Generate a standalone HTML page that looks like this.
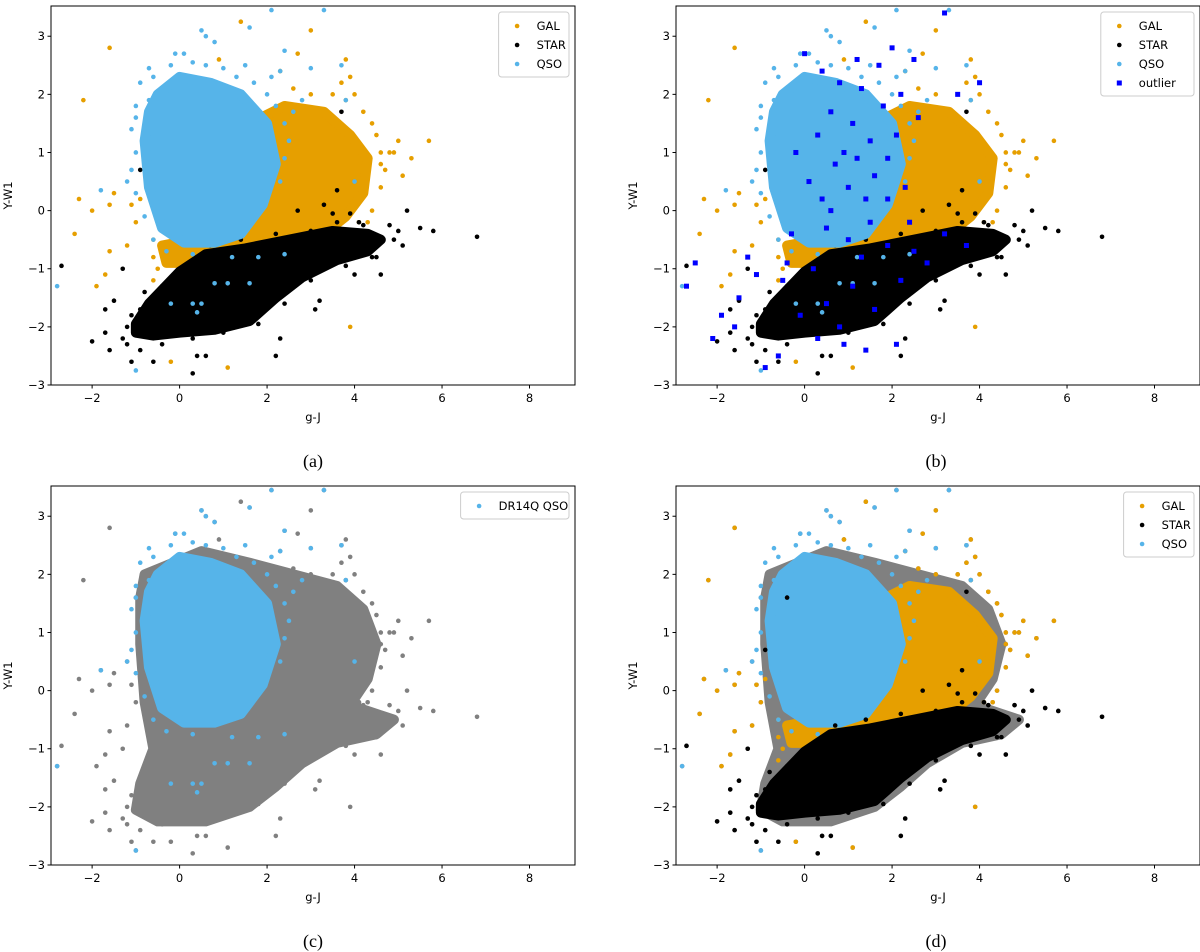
<!DOCTYPE html>
<html><head><meta charset="utf-8">
<style>
html,body{margin:0;padding:0;background:#fff;}
svg{display:block;}
text{font-family:"DejaVu Sans","Liberation Sans",sans-serif;}
.cap{font-family:"Liberation Serif","DejaVu Serif",serif;font-size:18px;}
</style></head>
<body>
<svg id="fig" width="1200" height="952" xmlns="http://www.w3.org/2000/svg"></svg>
<script>
// ---- data (data units: g-J, Y-W1) ----
const xTicks = [-2, 0, 2, 4, 6, 8];
const yTicks = [-3, -2, -1, 0, 1, 2, 3];
const xTickLabels = ["\u22122", "0", "2", "4", "6", "8"];
const yTickLabels = ["\u22123", "\u22122", "\u22121", "0", "1", "2", "3"];
const qsoCore = [[-0.5,2.0],[0,2.3],[0.7,2.2],[1.4,2.0],[2.0,1.5],[2.2,0.8],[1.9,0.1],[1.4,-0.4],[0.8,-0.55],[0.1,-0.55],[-0.4,-0.3],[-0.7,0.4],[-0.8,1.2],[-0.7,1.7]];
const galCore = [[1.6,1.5],[2.4,1.8],[3.3,1.7],[3.9,1.3],[4.3,0.9],[4.2,0.3],[3.8,-0.1],[3.3,-0.4],[2.5,-0.5],[1.8,-0.6],[0.8,-0.9],[-0.3,-0.9],[-0.4,-0.6],[1.0,-0.4],[1.6,0.3],[1.5,1.0]];
const starCore = [[-1.0,-1.95],[-0.7,-1.6],[0.0,-1.05],[0.6,-0.75],[1.5,-0.65],[2.5,-0.5],[3.5,-0.35],[4.3,-0.4],[4.6,-0.5],[4.3,-0.7],[3.6,-0.85],[2.8,-1.15],[2.2,-1.5],[1.6,-1.9],[0.8,-2.05],[0,-2.1],[-0.6,-2.15],[-1.0,-2.1]];
const grayCore = [[-0.8,2.0],[0.5,2.4],[1.6,2.2],[2.6,2.0],[3.6,1.8],[4.2,1.4],[4.5,0.8],[4.3,0.2],[3.9,-0.25],[4.5,-0.4],[4.9,-0.5],[4.5,-0.75],[3.6,-0.9],[2.8,-1.25],[2.2,-1.65],[1.6,-2.0],[0.6,-2.25],[-0.5,-2.25],[-1.0,-2.05],[-0.9,-1.6],[-0.6,-1.0],[-0.8,-0.2],[-0.9,0.8],[-0.9,1.6]];
const qsoFringe = [[-0.9,2.2],[-0.6,2.3],[-0.2,2.5],[0.3,2.55],[0.6,2.5],[1.0,2.45],[1.3,2.3],[1.7,2.2],[2.0,2.0],[2.2,1.8],[2.4,1.5],[2.5,1.2],[2.4,0.9],[2.3,0.5],[-1.0,1.8],[-1.1,1.4],[-1.0,1.0],[-1.1,0.7],[-1.0,0.3],[-0.8,-0.1],[-0.6,-0.5],[-0.3,-0.7],[0.3,-0.75],[2.1,2.3],[1.5,2.5],[0.1,2.7],[-0.7,2.45],[2.6,1.7],[2.8,1.9],[2.3,2.4]];
const galFringe = [[4.5,1.3],[4.6,1.0],[4.7,0.7],[4.6,0.4],[4.4,0.0],[4.1,-0.2],[4.4,1.5],[4.2,1.7],[3.8,1.9],[3.5,2.0],[3.0,2.0],[2.6,2.1],[3.7,2.2],[4.9,1.0],[4.3,-0.2],[-0.5,-1.0],[-0.6,-0.8],[-0.6,-0.5],[0.3,-1.0],[1.6,-1.8],[2.0,-1.6],[2.6,-1.3],[3.1,-1.0],[1.2,-2.0],[0.5,-2.1],[-0.6,-1.2]];
const starFringe = [[-1.2,-2.0],[-1.1,-1.8],[-1.2,-2.3],[-0.9,-2.4],[-0.4,-2.3],[0.3,-2.2],[1.0,-2.1],[1.8,-1.95],[2.4,-1.6],[3.0,-1.2],[3.8,-0.95],[4.5,-0.8],[4.9,-0.5],[5.0,-0.35],[4.8,-0.25],[4.2,-0.25],[3.6,-0.2],[3.0,-0.35],[2.2,-0.4],[1.4,-0.5],[0.7,-0.6],[0.2,-0.9],[-0.4,-1.3],[-0.8,-1.4],[-0.9,-1.7],[3.3,0.1],[3.5,-0.05],[2.7,0.0],[3.9,-0.05]];
const galPts = [[-1.6,2.8],[-2.2,1.9],[1.4,3.25],[3.0,3.1],[3.8,2.6],[4.0,2.0],[3.9,2.3],[5.7,1.2],[5.0,1.2],[5.3,0.9],[5.1,0.6],[-2.3,0.2],[-2.0,0],[-1.6,0.1],[-2.4,-0.4],[-1.6,-0.7],[-1.7,-1.1],[-1.9,-1.3],[-1.2,-0.6],[-1.0,-0.2],[3.9,-2.0],[1.1,-2.7],[-0.2,-2.6],[2.7,2.7],[0.9,2.6],[-1.1,0.1],[-0.9,0.2],[2.3,2.4],[-1.5,0.3],[4.6,0.8],[4.8,1.0]];
const starPts = [[6.8,-0.45],[5.8,-0.35],[5.5,-0.3],[5.2,0],[5.1,-0.6],[4.6,-1.1],[4.0,-1.1],[4.4,-0.8],[3.1,-1.7],[3.2,-1.55],[2.2,-2.5],[2.3,-2.2],[0.6,-2.5],[0.4,-2.5],[0.3,-2.8],[-0.6,-2.6],[-1.1,-2.6],[-2.0,-2.25],[-1.6,-2.4],[-1.7,-2.1],[-2.7,-0.95],[-1.5,-1.55],[-1.3,-1.0],[-0.9,0.7],[-0.4,1.6],[3.7,1.7],[4.1,-0.2],[-1.7,-1.7],[-1.3,-2.2],[3.6,0.35]];
const qsoPts = [[-2.8,-1.3],[-1.8,0.35],[-1.2,0.5],[-1.0,1.6],[-0.1,2.7],[0.5,3.1],[0.6,3.0],[1.6,3.15],[2.1,3.45],[3.3,3.45],[2.4,2.75],[3.0,2.45],[3.7,2.5],[3.8,1.9],[4.0,0.5],[-1.0,-2.75],[0.4,-1.75],[0.5,-1.6],[0.8,-1.25],[1.1,-1.25],[1.8,-0.8],[1.6,-1.25],[2.4,-0.75],[0.3,-1.6],[-0.2,-1.6],[1.2,-0.8],[0.8,2.9],[-0.7,1.9]];
const outlierPts = [[-2.7,-1.3],[-2.5,-0.9],[-2.1,-2.2],[-1.9,-1.8],[-1.6,-2.0],[-1.5,-1.5],[-1.3,-0.8],[-1.1,-1.1],[-0.9,-2.7],[-0.6,-2.5],[-0.5,-1.2],[-0.3,-0.4],[0,2.7],[0.1,0.5],[0.3,1.3],[0.4,0.2],[0.5,-0.3],[0.6,1.7],[0.7,0.8],[0.8,2.2],[0.9,1.0],[1.0,0.4],[1.1,1.5],[1.2,0.9],[1.3,2.1],[1.4,0.2],[1.5,1.2],[1.6,0.6],[1.7,2.5],[1.8,1.8],[1.9,0.9],[2.0,2.8],[2.1,1.3],[2.2,2.0],[2.3,0.4],[2.5,2.6],[2.6,1.6],[3.2,3.4],[3.5,2.0],[4.0,2.2],[0.2,-1.0],[0.5,-1.6],[0.8,-2.0],[1.1,-1.3],[1.3,-0.8],[1.6,-1.7],[1.9,-0.6],[2.2,-1.2],[2.5,-0.7],[2.8,-0.9],[3.2,-0.4],[3.7,-0.6],[2.1,-2.3],[1.4,-2.4],[0.9,-2.3],[0.3,-2.2],[-0.1,-1.8],[-0.4,-0.9],[0.6,0.0],[1.0,-0.5],[1.5,-0.2],[1.9,0.2],[2.4,-0.2],[0.4,2.4],[1.2,2.6],[-0.2,1.0]];
const legendA = ["GAL","STAR","QSO"];
const legendB = ["GAL","STAR","QSO","outlier"];
const legendC = ["DR14Q QSO"];

// ---- layout ----
const C = {gal:"#E69F00", star:"#000000", qso:"#56B4E9", gray:"#808080", out:"#0000FF"};
const NS = "http://www.w3.org/2000/svg";
const svg = document.getElementById('fig');
const XL = -2.94, XR = 9.04, YB = -3, YT = 3.52;
function mk(tag, attrs, parent){const e=document.createElementNS(NS,tag);for(const k in attrs)e.setAttribute(k,attrs[k]);(parent||svg).appendChild(e);return e;}

function panel(ox, oy, id, layers, legend, legendColors, caption){
  const W = 524, H = 379;
  const g = mk('g',{transform:`translate(${ox},${oy})`});
  
  
  const sx = v => (v - XL) / (XR - XL) * W;
  const sy = v => H - (v - YB) / (YT - YB) * H;
  const clipId = 'clip'+id;
  const cp = mk('clipPath',{id:clipId},g); mk('rect',{x:0,y:0,width:W,height:H},cp);
  const plot = mk('g',{'clip-path':`url(#${clipId})`},g);
  
  
  layers.forEach(L=>{
    const lg = mk('g',{},plot);
    
    
    if(L.core){
      const p = mk('polygon',{points:L.core.map(q=>sx(q[0])+','+sy(q[1])).join(' '),fill:L.color,stroke:L.color,'stroke-width':10,'stroke-linejoin':'round'},lg);
      
      
    }
    (L.pts||[]).forEach(q=>{
      let m;
      if(L.square) m = mk('rect',{x:sx(q[0])-2.5,y:sy(q[1])-2.5,width:5,height:5,fill:L.color},lg);
      else m = mk('circle',{cx:sx(q[0]),cy:sy(q[1]),r:2.3,fill:L.color},lg);
      
      
    });
  });
  const fr = mk('rect',{x:0,y:0,width:W,height:H,fill:'none',stroke:'#000','stroke-width':1},g);
  
  
  xTicks.forEach((t,i)=>{
    mk('line',{x1:sx(t),x2:sx(t),y1:H,y2:H+3.5,stroke:'#000'},g);
    const tx = mk('text',{x:sx(t),y:H+17,'font-size':11.5,'text-anchor':'middle'},g);
    tx.textContent = xTickLabels[i];
    
    
  });
  yTicks.forEach((t,i)=>{
    mk('line',{x1:0,x2:-3.5,y1:sy(t),y2:sy(t),stroke:'#000'},g);
    const tx = mk('text',{x:-6,y:sy(t)+4,'font-size':11.5,'text-anchor':'end'},g);
    tx.textContent = yTickLabels[i];
    
    
  });
  const xl = mk('text',{x:W/2,y:H+36,'font-size':11.5,'text-anchor':'middle'},g);
  xl.textContent = 'g-J';
  
  
  const yl = mk('text',{x:0,y:0,'font-size':11.5,'text-anchor':'middle',transform:`translate(${-39},${H/2}) rotate(-90)`},g);
  yl.textContent = 'Y-W1';
  
  
  const maxLen = Math.max(...legend.map(s=>s.length));
  const lw = 40 + maxLen*7.6, lh = 8 + legend.length*19;
  const lgG = mk('g',{transform:`translate(${W-lw-6},6)`},g);
  
  
  mk('rect',{x:0,y:0,width:lw,height:lh,rx:3,fill:'#fff','fill-opacity':0.85,stroke:'#ccc'},lgG);
  legend.forEach((s,i)=>{
    const e = mk('g',{},lgG);
    
    
    const y = 14 + i*19;
    if(s==='outlier') mk('rect',{x:16,y:y-2.5,width:5,height:5,fill:legendColors[i]},e);
    else mk('circle',{cx:18.5,cy:y,r:2.3,fill:legendColors[i]},e);
    const t = mk('text',{x:38,y:y+4,'font-size':11.5},e);
    t.textContent = s;
  });
  const cap = mk('text',{x:W/2+(ox>600?-2:0),y:H+82,'text-anchor':'middle',class:'cap'},g);
  cap.textContent = caption;
  
  
}

const galL = {name:'gal-series',color:C.gal,core:galCore,pts:galPts.concat(galFringe)};
const starL = {name:'star-series',color:C.star,core:starCore,pts:starPts.concat(starFringe)};
const qsoL = {name:'qso-series',color:C.qso,core:qsoCore,pts:qsoPts.concat(qsoFringe)};
const grayL = {name:'all-sources',color:C.gray,core:grayCore,pts:galPts.concat(starPts,qsoPts,galFringe,starFringe)};
const outL = {name:'outlier-series',color:C.out,pts:outlierPts,square:true};

panel(51,6,'a',[galL,starL,qsoL],legendA,[C.gal,C.star,C.qso],'(a)');
panel(676,6,'b',[galL,starL,qsoL,outL],legendB,[C.gal,C.star,C.qso,C.out],'(b)');
panel(51,486,'c',[grayL,{name:'dr14q-qso-series',color:C.qso,core:qsoCore,pts:qsoPts.concat(qsoFringe)}],legendC,[C.qso],'(c)');
panel(676,486,'d',[grayL,galL,qsoL,starL],legendA,[C.gal,C.star,C.qso],'(d)');
</script>
</body></html>
